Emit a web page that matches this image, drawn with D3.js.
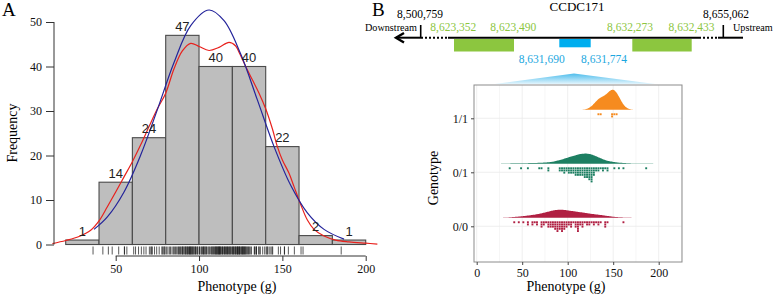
<!DOCTYPE html>
<html><head><meta charset="utf-8">
<script src="https://cdn.jsdelivr.net/npm/d3@7"></script>
<style>body{margin:0;background:#fff}svg{display:block}</style>
</head><body>
<svg id="c" width="778" height="296"></svg>
<script>
// ---------- DATA ----------
const binEdges = [20,40,60,80,100,120,140,160,180,200];
const binCounts = [1,14,24,47,40,40,22,2,1];
const xTicksA = [50,100,150,200];
const yTicksA = [0,10,20,30,40,50];
// fitted normal curve (blue)
const normalX = [37,45,55,65,75,85,95,106,115,125,135,145,155,165,175,187];
const normalY = [3.4,6.2,11.8,20.1,30.3,40.9,49.2,52.7,50.3,42.8,32.5,22.0,13.3,7.1,3.4,1.2];
// kernel density curve (red)
const kdeX = [12,20,28,35,40,45,50,55,60,65,70,75,80,85,90,95,100,106,112,118,122,124,128,132,136,140,144,147,150,154,157,161,165,169,175,182,190,200,207];
const kdeY = [0.2,0.9,1.8,3.2,5.3,8.5,11.8,15.2,18.6,22.4,26.5,30.5,34,39.5,43.5,45.2,44.5,43.6,44.3,45.4,44.6,43.2,40,37,34,30.5,26,22,19,16,13,9,5.5,3.4,1.9,1.0,0.6,0.3,0.1];

const genotypes = ["0/0","0/1","1/1"];
const pheno00 = [42.3,45.6,51.8,55.2,56.7,60.8,61.9,63.7,65.4,66.9,70.2,71.1,72.0,73.3,74.6,76.1,77.8,78.9,79.6,80.4,81.3,82.2,82.9,83.8,84.6,85.2,85.9,86.6,87.3,87.7,88.3,88.8,89.2,89.8,90.3,90.9,91.5,92.1,92.7,93.2,93.7,94.2,94.8,95.1,95.7,96.4,97.1,97.8,98.6,99.3,100.4,101.6,102.8,103.5,104.2,106.0,107.6,108.5,109.6,110.2,110.8,111.4,111.9,112.3,113.0,114.1,115.3,116.2,117.1,118.6,120.5,121.8,123.1,124.2,126.3,128.1,129.4,130.7,133.2,134.5,136.1,140.3,141.2,142.1,143.8,161.2];
const pheno01 = [36.4,47.9,55.3,68.2,71.4,77.9,79.1,90.2,91.8,92.9,94.3,95.2,96.0,96.9,97.9,99.2,100.3,101.2,102.1,102.7,103.6,104.5,105.3,106.1,107.0,107.8,108.4,109.1,109.7,110.3,110.9,111.6,112.2,112.8,113.4,114.0,114.6,115.2,115.9,116.5,117.2,117.7,118.2,118.7,119.2,119.7,120.1,120.6,121.1,121.6,122.1,122.6,123.0,123.4,123.8,124.2,124.6,125.1,125.4,125.8,126.2,126.6,127.0,127.3,127.7,128.3,128.9,129.6,130.4,131.5,133.2,134.4,135.8,138.2,139.4,140.8,143.1,144.2,151.3,157.2,162.4,185.3];
const pheno11 = [134.1,136.8,147.6,148.9,151.2,153.6];
const bandwidths = [9.5,9.5,6.5];
const xTicksB = [0,50,100,150,200];

const geneName = "CCDC171";
const flankLabels = ["8,500,759","8,655,062"];
const directionLabels = ["Downstream","Upstream"];
const exonLabels = ["8,623,352","8,623,490","8,632,273","8,632,433"];
const snpLabels = ["8,631,690","8,631,774"];

// ---------- DRAW ----------
const svg = d3.select("#c");
const serif = "'Liberation Serif','Times New Roman',serif";
const sans = "'Liberation Sans',Arial,sans-serif";

// ===== Panel A =====
const xA = d3.scaleLinear().domain([50,200]).range([115.7,365.7]);
const yA = d3.scaleLinear().domain([0,50]).range([244.5,22]);
const gA = svg.append("g");

const bins = binCounts.map((c,i)=>({x0:binEdges[i],x1:binEdges[i+1],n:c}));
gA.selectAll("rect.bar").data(bins).join("rect")
  .attr("x",d=>xA(d.x0)).attr("y",d=>yA(d.n))
  .attr("width",d=>xA(d.x1)-xA(d.x0)).attr("height",d=>yA(0)-yA(d.n))
  .attr("fill","#bebebe").attr("stroke","#4a4a4a").attr("stroke-width",1.1);

const lineA = d3.line().x(d=>xA(d[0])).y(d=>yA(d[1])).curve(d3.curveCatmullRom);
gA.append("path").datum(kdeX.map((x,i)=>[x,kdeY[i]])).attr("d",lineA)
  .attr("fill","none").attr("stroke","#e8211d").attr("stroke-width",1.2);
gA.append("path").datum(normalX.map((x,i)=>[x,normalY[i]])).attr("d",lineA)
  .attr("fill","none").attr("stroke","#23239a").attr("stroke-width",1.2);

gA.selectAll("text.cnt").data(bins).join("text")
  .attr("x",d=>xA((d.x0+d.x1)/2)).attr("y",d=>yA(d.n)-4.5)
  .attr("text-anchor","middle").attr("font-family",sans).attr("font-size",13)
  .attr("fill","#222").text(d=>d.n);

// rug
const allPheno = pheno00.concat(pheno01, pheno11);
gA.selectAll("line.rug").data(allPheno).join("line")
  .attr("x1",d=>xA(d)).attr("x2",d=>xA(d)).attr("y1",246.5).attr("y2",254.5)
  .attr("stroke","#111").attr("stroke-width",0.7);

// axes
const axA = gA.append("g").attr("transform","translate(0,256)")
  .call(d3.axisBottom(xA).tickValues(xTicksA).tickSize(5).tickPadding(3));
const ayA = gA.append("g").attr("transform","translate(54,0)")
  .call(d3.axisLeft(yA).tickValues(yTicksA).tickSize(8).tickPadding(4));
[axA,ayA].forEach(a=>{
  a.select(".domain").attr("stroke","#333");
  a.selectAll(".tick line").attr("stroke","#333");
  a.selectAll("text").attr("font-family",serif).attr("font-size",12).attr("fill","#111");
});
ayA.select(".domain").attr("d","M0,"+yA(0)+"V"+yA(50));
axA.select(".domain").attr("d","M"+xA(50)+",0H"+xA(200));
gA.append("text").attr("x",237).attr("y",291).attr("text-anchor","middle")
  .attr("font-family",serif).attr("font-size",14).text("Phenotype (g)");
gA.append("text").attr("transform","translate(17,133) rotate(-90)").attr("text-anchor","middle")
  .attr("font-family",serif).attr("font-size",14).text("Frequency");
svg.append("text").attr("x",2).attr("y",16).attr("font-family",serif).attr("font-size",19).text("A");
svg.append("text").attr("x",372).attr("y",16).attr("font-family",serif).attr("font-size",19).text("B");

// ===== Panel B: gene diagram =====
const gG = svg.append("g");
const lineY = 37.7;
gG.append("text").attr("x",577).attr("y",11).attr("text-anchor","middle")
  .attr("font-family",serif).attr("font-size",13).text(geneName);
const seg = (x1,x2,dash)=>gG.append("line").attr("x1",x1).attr("x2",x2).attr("y1",lineY).attr("y2",lineY)
  .attr("stroke","#000").attr("stroke-width",2).attr("stroke-dasharray",dash||null);
seg(396,421); seg(421,448,"2,2"); seg(448,699); seg(699,718,"2,2"); seg(718,743);
gG.append("polyline").attr("points","404,33 396,37.7 404,42.5").attr("fill","none")
  .attr("stroke","#000").attr("stroke-width",2.4);
[420.7,723.3].forEach(x=>gG.append("line").attr("x1",x).attr("x2",x).attr("y1",25).attr("y2",lineY)
  .attr("stroke","#000").attr("stroke-width",1.6));
gG.append("text").attr("x",420).attr("y",18).attr("text-anchor","middle").attr("font-family",serif)
  .attr("font-size",11.5).text(flankLabels[0]);
gG.append("text").attr("x",726).attr("y",18).attr("text-anchor","middle").attr("font-family",serif)
  .attr("font-size",11.5).text(flankLabels[1]);
gG.append("text").attr("x",417).attr("y",30.5).attr("text-anchor","end").attr("font-family",serif)
  .attr("font-size",10.2).text(directionLabels[0]);
gG.append("text").attr("x",733).attr("y",30.5).attr("font-family",serif)
  .attr("font-size",10.2).text(directionLabels[1]);
const green = "#8cc63f", cyan = "#00aeef";
gG.append("rect").attr("x",454).attr("y",39).attr("width",60).attr("height",12.5).attr("fill",green);
gG.append("rect").attr("x",632.3).attr("y",39).attr("width",59.4).attr("height",12.5).attr("fill",green);
gG.append("rect").attr("x",559.3).attr("y",39).attr("width",31.4).attr("height",8.3).attr("fill",cyan);
[453.3,513.3,630,691.5].forEach((x,i)=>gG.append("text").attr("x",x).attr("y",31).attr("text-anchor","middle")
  .attr("font-family",serif).attr("font-size",11.5).attr("fill","#8cc63f").text(exonLabels[i]));
[541.7,604].forEach((x,i)=>gG.append("text").attr("x",x).attr("y",62.5).attr("text-anchor","middle")
  .attr("font-family",serif).attr("font-size",11.5).attr("fill","#1ba7e0").text(snpLabels[i]));
const defs = svg.append("defs");
const grad = defs.append("linearGradient").attr("id","fan").attr("x1",0).attr("y1",0).attr("x2",0).attr("y2",1);
grad.append("stop").attr("offset","0%").attr("stop-color","#4fbdec");
grad.append("stop").attr("offset","100%").attr("stop-color","#e3f5fd");
gG.append("path").attr("d","M574,73.5 L655,84 L495,84 Z").attr("fill","url(#fan)");

// ===== Panel B: raincloud =====
const xB = d3.scaleLinear().domain([0,200]).range([476.7,658.7]);
const yB = d3.scaleLinear().domain([1,3]).range([226.3,118.3]);
const px0 = 474, px1 = 682, py0 = 85, py1 = 262;
const gB = svg.append("g");
gB.selectAll("line.vg").data(d3.range(0,226,25)).join("line")
  .attr("x1",d=>xB(d)).attr("x2",d=>xB(d)).attr("y1",py0).attr("y2",py1)
  .attr("stroke",d=>d%50===0?"#ebebeb":"#f4f4f4").attr("stroke-width",0.8);
gB.selectAll("line.hg").data([1,2,3]).join("line")
  .attr("x1",px0).attr("x2",px1).attr("y1",d=>yB(d)).attr("y2",d=>yB(d))
  .attr("stroke","#ebebeb").attr("stroke-width",0.8);

const groups = [
  {key:genotypes[0], vals:pheno00, col:"#b01f42", lvl:1, bw:bandwidths[0]},
  {key:genotypes[1], vals:pheno01, col:"#1d7f62", lvl:2, bw:bandwidths[1]},
  {key:genotypes[2], vals:pheno11, col:"#f68b1f", lvl:3, bw:bandwidths[2]}
];
groups.forEach(g=>{
  const bw = g.bw;
  const lo = d3.min(g.vals)-3*bw, hi = d3.max(g.vals)+3*bw;
  g.dens = d3.range(lo, hi+0.01, (hi-lo)/200).map(x=>[x, d3.mean(g.vals, v=>Math.exp(-0.5*((x-v)/bw)**2))/(bw*Math.sqrt(2*Math.PI))]);
});
const dmax = d3.max(groups, g=>d3.max(g.dens, d=>d[1]));
const hD = d3.scaleLinear().domain([0,dmax]).range([0,20]);
groups.forEach(g=>{
  const base = yB(g.lvl)-8.5;
  gB.append("path").datum(g.dens)
    .attr("d", d3.area().x(d=>xB(d[0])).y0(base).y1(d=>base-hD(d[1])).curve(d3.curveBasis))
    .attr("fill", g.col);
  const bw = 2.5;
  const b = d3.bin().domain([0,230]).thresholds(d3.range(0,230,bw))(g.vals).filter(d=>d.length);
  const pts = [];
  b.forEach(bn=>bn.forEach((v,i)=>pts.push({x:(bn.x0+bn.x1)/2, i})));
  gB.selectAll(null).data(pts).join("rect")
    .attr("x",d=>xB(d.x)-0.95).attr("y",d=>yB(g.lvl)-5+d.i*2.2)
    .attr("width",1.9).attr("height",1.9).attr("fill",g.col);
});
gB.append("rect").attr("x",px0).attr("y",py0).attr("width",px1-px0).attr("height",py1-py0)
  .attr("fill","none").attr("stroke","#8c8c8c").attr("stroke-width",1);
const axB = gB.append("g").attr("transform","translate(0,"+py1+")")
  .call(d3.axisBottom(xB).tickValues(xTicksB).tickSize(3).tickPadding(3));
const ayB = gB.append("g").attr("transform","translate("+px0+",0)")
  .call(d3.axisLeft(yB).tickValues([1,2,3]).tickFormat(d=>genotypes[d-1]).tickSize(3).tickPadding(3));
[axB,ayB].forEach(a=>{
  a.select(".domain").remove();
  a.selectAll(".tick line").attr("stroke","#444");
  a.selectAll("text").attr("font-family",serif).attr("font-size",12).attr("fill","#111");
});
gB.append("text").attr("x",566).attr("y",291).attr("text-anchor","middle")
  .attr("font-family",serif).attr("font-size",14).text("Phenotype (g)");
gB.append("text").attr("transform","translate(438,178) rotate(-90)").attr("text-anchor","middle")
  .attr("font-family",serif).attr("font-size",14).text("Genotype");
</script>
</body></html>
